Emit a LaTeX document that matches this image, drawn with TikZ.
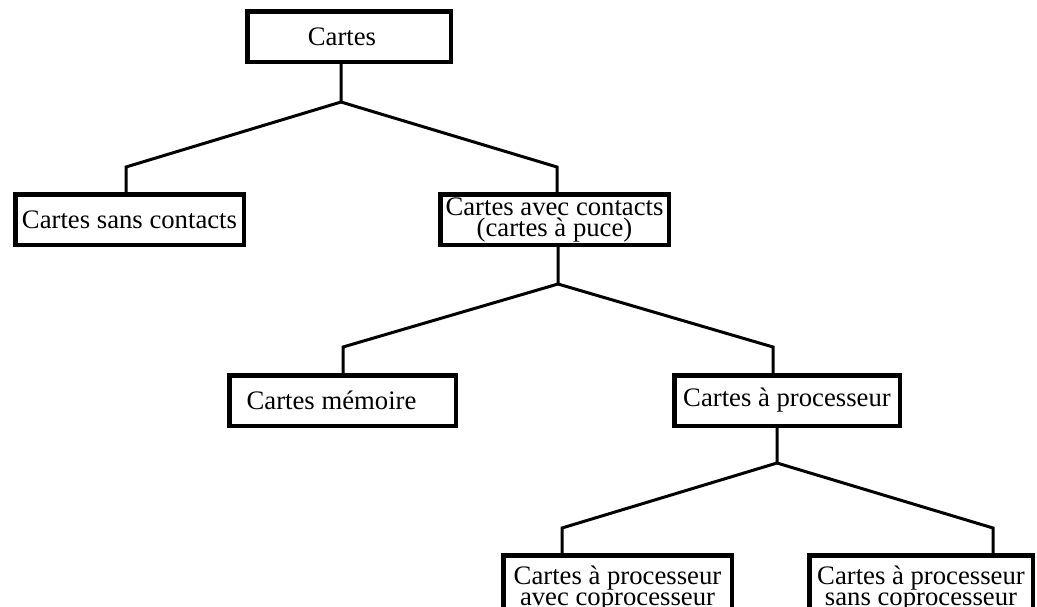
\documentclass[tikz,border=0pt]{standalone}
\usepackage{fontspec}
\setmainfont{Liberation Serif}
\begin{document}
\begin{tikzpicture}[x=1pt,y=-1pt,
  box/.style={draw,line width=4.5pt,inner sep=0pt,align=center,
    font=\fontsize{26.7}{21}\selectfont},
  conn/.style={line width=3pt}]
\useasboundingbox (0,0) rectangle (1037,606);
\clip (0,0) rectangle (1037,606);

\node[box,minimum width=203.5pt,minimum height=50.5pt] (c0) at (349,36.5) {\hspace*{-14pt}Cartes};
\node[box,minimum width=228.5pt,minimum height=50.5pt] (c1) at (129.5,219.5) {Cartes sans contacts};
\node[box,minimum width=228.5pt,minimum height=50.5pt] (c2) at (554.5,219.5) {Cartes avec contacts\\(cartes à puce)};
\node[box,minimum width=226.5pt,minimum height=50.5pt] (c3) at (342.5,400.5) {\hspace*{-22pt}Cartes mémoire};
\node[box,minimum width=225.5pt,minimum height=50.5pt] (c4) at (787,400.5) {Cartes à processeur};
\node[box,minimum width=228.5pt,minimum height=67.5pt] (c5) at (617.5,589) {Cartes à processeur\\avec coprocesseur};
\node[box,minimum width=223.5pt,minimum height=67.5pt] (c6) at (921,589) {Cartes à processeur\\sans coprocesseur};

\coordinate (j0) at (341,102);
\coordinate (k1) at (126,167);
\coordinate (k2) at (557,167);
\draw[conn] (c0.south -| j0) -- (j0) -- (k1) -- (k1 |- c1.north);
\draw[conn] (j0) -- (k2) -- (k2 |- c2.north);

\coordinate (j1) at (558,284);
\coordinate (k3) at (343,347);
\coordinate (k4) at (773,347);
\draw[conn] (c2.south -| j1) -- (j1) -- (k3) -- (k3 |- c3.north);
\draw[conn] (j1) -- (k4) -- (k4 |- c4.north);

\coordinate (j2) at (777,463);
\coordinate (k5) at (562,528);
\coordinate (k6) at (993,528);
\draw[conn] (c4.south -| j2) -- (j2) -- (k5) -- (k5 |- c5.north);
\draw[conn] (j2) -- (k6) -- (k6 |- c6.north);
\end{tikzpicture}
\end{document}
